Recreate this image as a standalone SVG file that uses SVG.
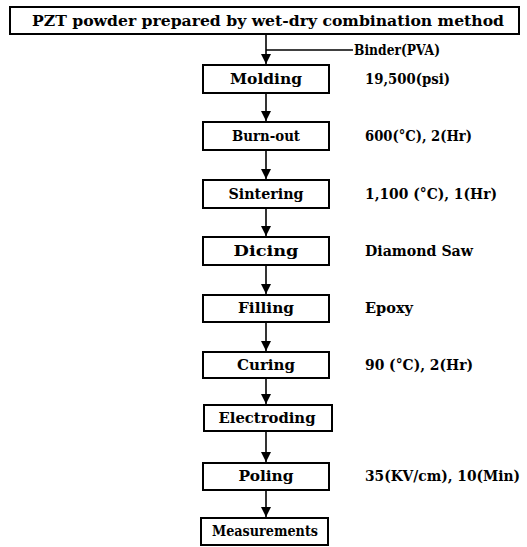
<svg xmlns="http://www.w3.org/2000/svg" width="527" height="547" viewBox="0 0 527 547">
<style>
.box{fill:#fff;stroke:#000;stroke-width:2}
.lbl{font-family:"DejaVu Serif","Liberation Serif",serif;font-weight:bold;font-size:14px;fill:#000;text-anchor:middle}
.side{font-family:"DejaVu Serif","Liberation Serif",serif;font-weight:bold;font-size:14px;fill:#000}
.ln{stroke:#000;stroke-width:1.6;fill:none}
</style>
<defs>
<marker id="ah" markerWidth="10" markerHeight="11" refX="10" refY="5" orient="auto" markerUnits="userSpaceOnUse">
<path d="M0,0 L10,5 L0,10 Z" fill="#000"/>
</marker>
</defs>
<rect width="527" height="547" fill="#fff"/>
<g id="connectors">
<line class="ln" x1="266" y1="34" x2="266" y2="64" marker-end="url(#ah)"/>
<line class="ln" x1="266" y1="50" x2="353" y2="50"/>
<line class="ln" x1="266" y1="93" x2="266" y2="121" marker-end="url(#ah)"/>
<line class="ln" x1="266" y1="150" x2="266" y2="179" marker-end="url(#ah)"/>
<line class="ln" x1="266" y1="208" x2="266" y2="236" marker-end="url(#ah)"/>
<line class="ln" x1="266" y1="265" x2="266" y2="294" marker-end="url(#ah)"/>
<line class="ln" x1="266" y1="322" x2="266" y2="351" marker-end="url(#ah)"/>
<line class="ln" x1="266" y1="378" x2="266" y2="404" marker-end="url(#ah)"/>
<line class="ln" x1="266" y1="431" x2="266" y2="462" marker-end="url(#ah)"/>
<line class="ln" x1="266" y1="490" x2="266" y2="517" marker-end="url(#ah)"/>
</g>
<g id="start">
<rect class="box" x="10" y="7" width="509" height="27"/>
<text class="lbl" x="268" y="26" font-size="15" textLength="472" lengthAdjust="spacingAndGlyphs">PZT  powder prepared  by wet-dry combination method</text>
</g>
<g id="binder"><text class="side" x="354" y="55" textLength="86" lengthAdjust="spacingAndGlyphs">Binder(PVA)</text></g>
<g id="molding">
<rect class="box" x="203" y="65" width="126" height="28"/>
<text class="lbl" x="266" y="84" textLength="72" lengthAdjust="spacingAndGlyphs">Molding</text>
<text class="side" x="365" y="84" textLength="85" lengthAdjust="spacingAndGlyphs">19,500(psi)</text>
</g>
<g id="burnout">
<rect class="box" x="203" y="122" width="126" height="28"/>
<text class="lbl" x="266" y="141" textLength="68" lengthAdjust="spacingAndGlyphs">Burn-out</text>
<text class="side" x="365" y="141" textLength="107" lengthAdjust="spacingAndGlyphs">600(°C), 2(Hr)</text>
</g>
<g id="sintering">
<rect class="box" x="203" y="180" width="126" height="28"/>
<text class="lbl" x="266" y="199" textLength="75" lengthAdjust="spacingAndGlyphs">Sintering</text>
<text class="side" x="365" y="199" textLength="132" lengthAdjust="spacingAndGlyphs">1,100 (°C), 1(Hr)</text>
</g>
<g id="dicing">
<rect class="box" x="203" y="237" width="126" height="28"/>
<text class="lbl" x="266" y="256" textLength="65" lengthAdjust="spacingAndGlyphs">Dicing</text>
<text class="side" x="365" y="256" textLength="108" lengthAdjust="spacingAndGlyphs">Diamond Saw</text>
</g>
<g id="filling">
<rect class="box" x="203" y="295" width="126" height="27"/>
<text class="lbl" x="266" y="313" textLength="56" lengthAdjust="spacingAndGlyphs">Filling</text>
<text class="side" x="365" y="313" textLength="48" lengthAdjust="spacingAndGlyphs">Epoxy</text>
</g>
<g id="curing">
<rect class="box" x="203" y="352" width="126" height="26"/>
<text class="lbl" x="266" y="370" textLength="58" lengthAdjust="spacingAndGlyphs">Curing</text>
<text class="side" x="365" y="370" textLength="108" lengthAdjust="spacingAndGlyphs">90 (°C), 2(Hr)</text>
</g>
<g id="electroding">
<rect class="box" x="204" y="405" width="128" height="26"/>
<text class="lbl" x="267" y="423" textLength="97" lengthAdjust="spacingAndGlyphs">Electroding</text>
</g>
<g id="poling">
<rect class="box" x="203" y="463" width="126" height="27"/>
<text class="lbl" x="266" y="481" textLength="55" lengthAdjust="spacingAndGlyphs">Poling</text>
<text class="side" x="365" y="481" textLength="155" lengthAdjust="spacingAndGlyphs">35(KV/cm), 10(Min)</text>
</g>
<g id="measurements">
<rect class="box" x="201" y="518" width="127" height="27"/>
<text class="lbl" x="265" y="536" font-size="13" textLength="106" lengthAdjust="spacingAndGlyphs">Measurements</text>
</g>
</svg>
